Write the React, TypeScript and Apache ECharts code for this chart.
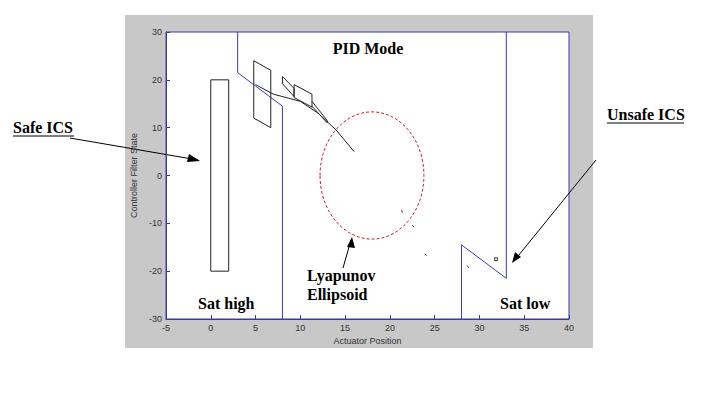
import { useEffect, useRef } from "react";
import * as echarts from "echarts";

const blueLeft = [[3, 30], [3, 21.5], [8, 14.5], [8, -30]];
const blueRight = [[28, -30], [28, -14.5], [33, -21.5], [33, 30]];
const safeRect = [[0, -20], [0, 20], [2, 20], [2, -20], [0, -20]];
const para1 = [[4.8, 24], [6.7, 22], [6.7, 10], [4.8, 12], [4.8, 24]];
const para2 = [[8, 20.7], [9.3, 18.2], [9.3, 16.5], [8, 19.2], [8, 20.7]];
const para3 = [[9.3, 19], [11.3, 17], [11.3, 14.3], [9.3, 16.3], [9.3, 19]];
const para4 = [[11.3, 15.5], [13, 11.5], [13, 11], [11.3, 14.5]];
const trajectory = [[5, 19], [7, 17], [10, 15.5], [12, 13], [14, 9.5], [16, 5]];
const smallMarks = [
  [[21.3, -7.2], [21.4, -7.8]],
  [[22.5, -10.4], [22.7, -10.8]],
  [[23.9, -16.4], [24.1, -16.7]],
  [[28.6, -18.8], [28.8, -19.3]],
];
const unsafeBox = [[31.7, -17.2], [32, -17.2], [32, -17.8], [31.7, -17.8], [31.7, -17.2]];
const ellipse = [18, 0, 5.8, 13.3];
const xTicks = [-5, 40, 5];
const yTicks = [-30, 30, 10];

const line = (data: number[][], color: string) => ({
  type: "line",
  data,
  symbol: "none",
  silent: true,
  lineStyle: { color, width: 1 },
});

const serif = { fontFamily: "Liberation Serif", fontWeight: "bold", fontSize: 16, fill: "#000" };

const axisCommon = {
  type: "value",
  nameLocation: "middle",
  nameTextStyle: { fontFamily: "Liberation Sans", fontSize: 9, color: "#333" },
  axisLine: { onZero: false, lineStyle: { color: "#3a3aa0" } },
  axisTick: { inside: true, length: 4, lineStyle: { color: "#3a3aa0" } },
  axisLabel: { fontFamily: "Liberation Sans", fontSize: 9, color: "#333", margin: 4 },
  splitLine: { show: false },
};

export default function App() {
  const ref = useRef<HTMLDivElement | null>(null);

  useEffect(() => {
    document.body.style.margin = "0";
    if (!ref.current) return;
    const chart = echarts.init(ref.current, undefined, { renderer: "svg" });
    chart.setOption({
      animation: false,
      backgroundColor: "#fff",
      grid: {
        left: 166, top: 32, width: 403, height: 287,
        show: true, backgroundColor: "#fff", borderColor: "#3a3aa0", borderWidth: 1,
      },
      xAxis: {
        ...axisCommon, min: xTicks[0], max: xTicks[1], interval: xTicks[2],
        name: "Actuator Position", nameGap: 16,
      },
      yAxis: {
        ...axisCommon, min: yTicks[0], max: yTicks[1], interval: yTicks[2],
        name: "Controller Filter State", nameGap: 20,
      },
      series: [
        line(blueLeft, "#3a3ac0"),
        line(blueRight, "#3a3ac0"),
        line(safeRect, "#222"),
        line(para1, "#222"),
        line(para2, "#222"),
        line(para3, "#222"),
        line(para4, "#222"),
        line(trajectory, "#222"),
        ...smallMarks.map((m) => line(m, "#444")),
        line(unsafeBox, "#333"),
        {
          type: "custom",
          silent: true,
          data: [ellipse],
          renderItem: (_p: any, api: any) => {
            const c = api.coord([api.value(0), api.value(1)]);
            const e = api.coord([api.value(0) + api.value(2), api.value(1) + api.value(3)]);
            return {
              type: "ellipse",
              shape: { cx: c[0], cy: c[1], rx: e[0] - c[0], ry: c[1] - e[1] },
              style: { fill: "none", stroke: "#d02020", lineWidth: 1, lineDash: [3, 2] },
            };
          },
        },
      ],
      graphic: [
        { type: "rect", z: -10, shape: { x: 125, y: 15, width: 468, height: 333 }, style: { fill: "#c8c8c8" } },
        { type: "text", x: 368, y: 40, style: { ...serif, text: "PID Mode", align: "center" } },
        { type: "text", x: 198, y: 295, style: { ...serif, text: "Sat high" } },
        { type: "text", x: 500, y: 295, style: { ...serif, text: "Sat low" } },
        { type: "text", x: 307, y: 266, style: { ...serif, text: "Lyapunov\nEllipsoid", lineHeight: 19 } },
        { type: "text", x: 13, y: 119, style: { ...serif, text: "Safe ICS" } },
        { type: "line", shape: { x1: 13, y1: 136, x2: 74, y2: 136 }, style: { stroke: "#000", lineWidth: 1 } },
        { type: "text", x: 607, y: 106, style: { ...serif, text: "Unsafe ICS" } },
        { type: "line", shape: { x1: 607, y1: 123, x2: 684, y2: 123 }, style: { stroke: "#000", lineWidth: 1 } },
        { type: "line", shape: { x1: 70, y1: 138, x2: 198, y2: 160 }, style: { stroke: "#000", lineWidth: 1 } },
        { type: "polygon", shape: { points: [[200, 161], [189, 154], [187, 162]] }, style: { fill: "#000" } },
        { type: "line", shape: { x1: 596, y1: 160, x2: 514, y2: 261 }, style: { stroke: "#000", lineWidth: 1 } },
        { type: "polygon", shape: { points: [[512, 263], [515, 252], [521, 257]] }, style: { fill: "#000" } },
        { type: "line", shape: { x1: 343, y1: 268, x2: 351, y2: 240 }, style: { stroke: "#000", lineWidth: 1 } },
        { type: "polygon", shape: { points: [[352, 237], [347, 247], [355, 248]] }, style: { fill: "#000" } },
      ],
    });
    return () => chart.dispose();
  }, []);

  return <div ref={ref} style={{ width: 720, height: 400 }} />;
}
